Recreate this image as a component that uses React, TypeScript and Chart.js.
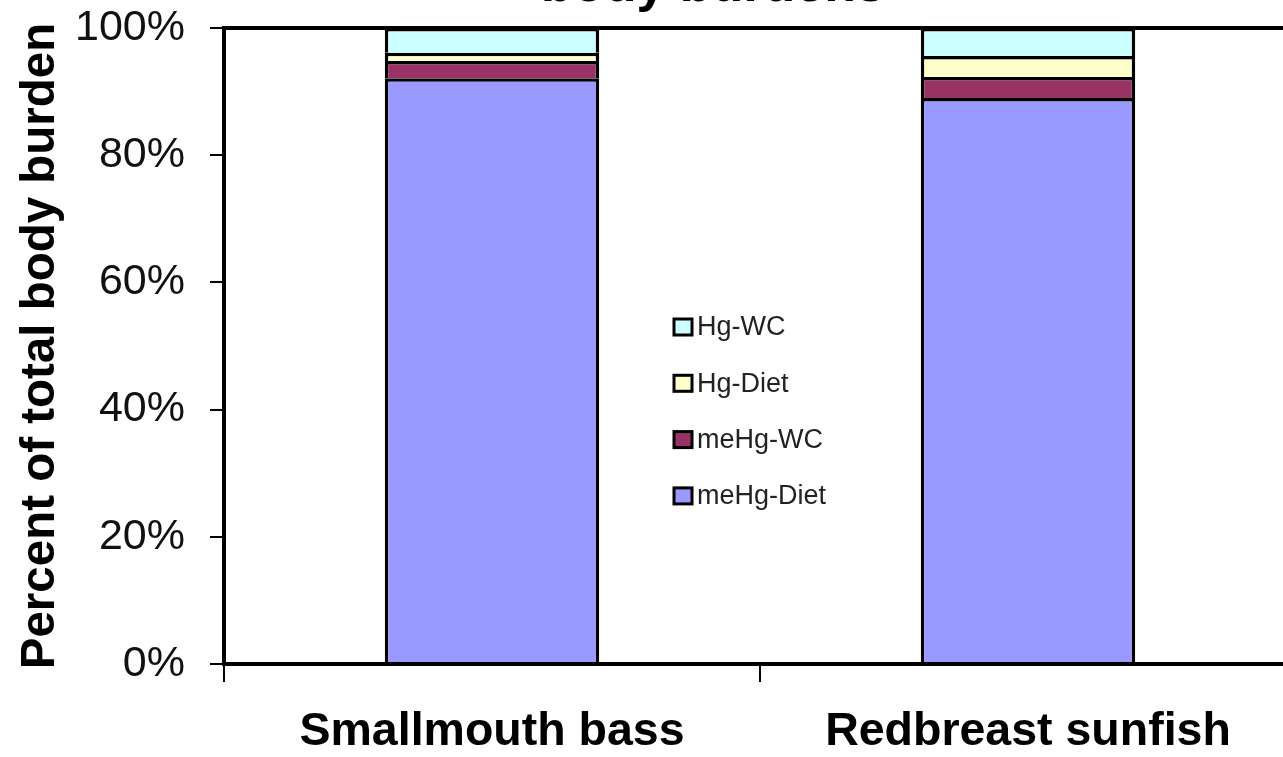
import React, { useEffect, useRef } from "react";
import { Chart, registerables } from "chart.js";

Chart.register(...registerables);

const categories = ["Smallmouth bass", "Redbreast sunfish"];
const meHgDiet = [92.1, 89.0];
const meHgWC = [2.7, 3.3];
const hgDiet = [1.3, 3.3];
const hgWC = [3.9, 4.4];
const seriesNames = ["meHg-Diet", "meHg-WC", "Hg-Diet", "Hg-WC"];
const seriesColors = ["#9999FF", "#993366", "#FFFFCC", "#CCFFFF"];
const titleText = "body burdens";
const yAxisTitle = "Percent of total body burden";

const FONT = "'Liberation Sans', Arial, Helvetica, sans-serif";
const OFFSET_TOP = 60;
const CANVAS_W = 1310;
const CANVAS_H = 757 + OFFSET_TOP;

const framePlugin = {
  id: "frameBox",
  afterDatasetsDraw(chart: any) {
    const { ctx, chartArea } = chart;
    ctx.save();
    ctx.strokeStyle = "#000";
    ctx.lineWidth = 4;
    ctx.strokeRect(chartArea.left, chartArea.top, chartArea.right - chartArea.left, chartArea.bottom - chartArea.top);
    ctx.restore();
  },
};

const titlePlugin = {
  id: "partialTitle",
  afterDraw(chart: any) {
    const { ctx, chartArea } = chart;
    ctx.save();
    ctx.font = `bold 52px ${FONT}`;
    ctx.fillStyle = "#000";
    ctx.textAlign = "center";
    ctx.textBaseline = "alphabetic";
    ctx.fillText(titleText, chartArea.left + 489, chartArea.top - 27);
    ctx.restore();
  },
};

const legendPlugin = {
  id: "innerLegend",
  afterDraw(chart: any) {
    const { ctx, chartArea } = chart;
    const ds = chart.data.datasets;
    const x0 = chartArea.left + 450;
    const y0 = chartArea.top + 299;
    const step = 56.3;
    ctx.save();
    ctx.font = `27px ${FONT}`;
    ctx.textBaseline = "middle";
    ctx.textAlign = "left";
    for (let i = ds.length - 1, k = 0; i >= 0; i--, k++) {
      const cy = y0 + k * step;
      ctx.fillStyle = ds[i].backgroundColor;
      ctx.fillRect(x0, cy - 8, 18, 16);
      ctx.strokeStyle = "#000";
      ctx.lineWidth = 3;
      ctx.strokeRect(x0, cy - 8, 18, 16);
      ctx.fillStyle = "#222";
      ctx.fillText(ds[i].label, x0 + 23, cy + 1);
    }
    ctx.restore();
  },
};

export default function App() {
  const ref = useRef<HTMLCanvasElement | null>(null);

  useEffect(() => {
    if (!ref.current) return;
    const values = [meHgDiet, meHgWC, hgDiet, hgWC];
    const chart = new Chart(ref.current, {
      type: "bar",
      data: {
        labels: categories,
        datasets: values.map((v, i) => ({
          label: seriesNames[i],
          data: v,
          backgroundColor: seriesColors[i],
          borderColor: "#000",
          borderWidth: 3.5,
          barPercentage: 0.4,
          categoryPercentage: 1.0,
        })),
      },
      options: {
        responsive: false,
        animation: false,
        devicePixelRatio: 1,
        layout: { padding: { top: 28 + OFFSET_TOP, right: 14, left: 0, bottom: 0 } },
        plugins: {
          legend: { display: false },
          tooltip: { enabled: false },
          title: { display: false },
        },
        scales: {
          x: {
            stacked: true,
            grid: {
              offset: true,
              drawOnChartArea: false,
              drawTicks: true,
              tickLength: 18,
              color: "#000",
              lineWidth: 2,
            },
            border: { display: true, color: "#000", width: 4 },
            ticks: {
              color: "#000",
              padding: 22,
              font: { family: FONT, size: 46.5, weight: "bold" },
            },
            afterFit(scale: any) {
              scale.height = CANVAS_H - (664 + OFFSET_TOP);
            },
          },
          y: {
            stacked: true,
            min: 0,
            max: 100,
            ticks: {
              stepSize: 20,
              color: "#111",
              padding: 25,
              font: { family: FONT, size: 43 },
              callback: (v: any) => `${v}%`,
            },
            grid: {
              drawOnChartArea: false,
              drawTicks: true,
              tickLength: 14,
              color: "#000",
              lineWidth: 2,
            },
            border: { display: true, color: "#000", width: 4 },
            title: {
              display: true,
              text: yAxisTitle,
              color: "#000",
              padding: { top: 12, bottom: 0 },
              font: { family: FONT, size: 47.5, weight: "bold" },
            },
            afterFit(scale: any) {
              scale.width = 224;
            },
          },
        },
      },
      plugins: [framePlugin, titlePlugin, legendPlugin],
    } as any);
    return () => chart.destroy();
  }, []);

  return (
    <div
      style={{
        position: "fixed",
        left: 0,
        top: 0,
        width: 1283,
        height: 757,
        overflow: "hidden",
        background: "#fff",
      }}
    >
      <canvas
        ref={ref}
        width={CANVAS_W}
        height={CANVAS_H}
        style={{ position: "absolute", left: 0, top: -OFFSET_TOP, width: CANVAS_W, height: CANVAS_H, display: "block" }}
      />
    </div>
  );
}
